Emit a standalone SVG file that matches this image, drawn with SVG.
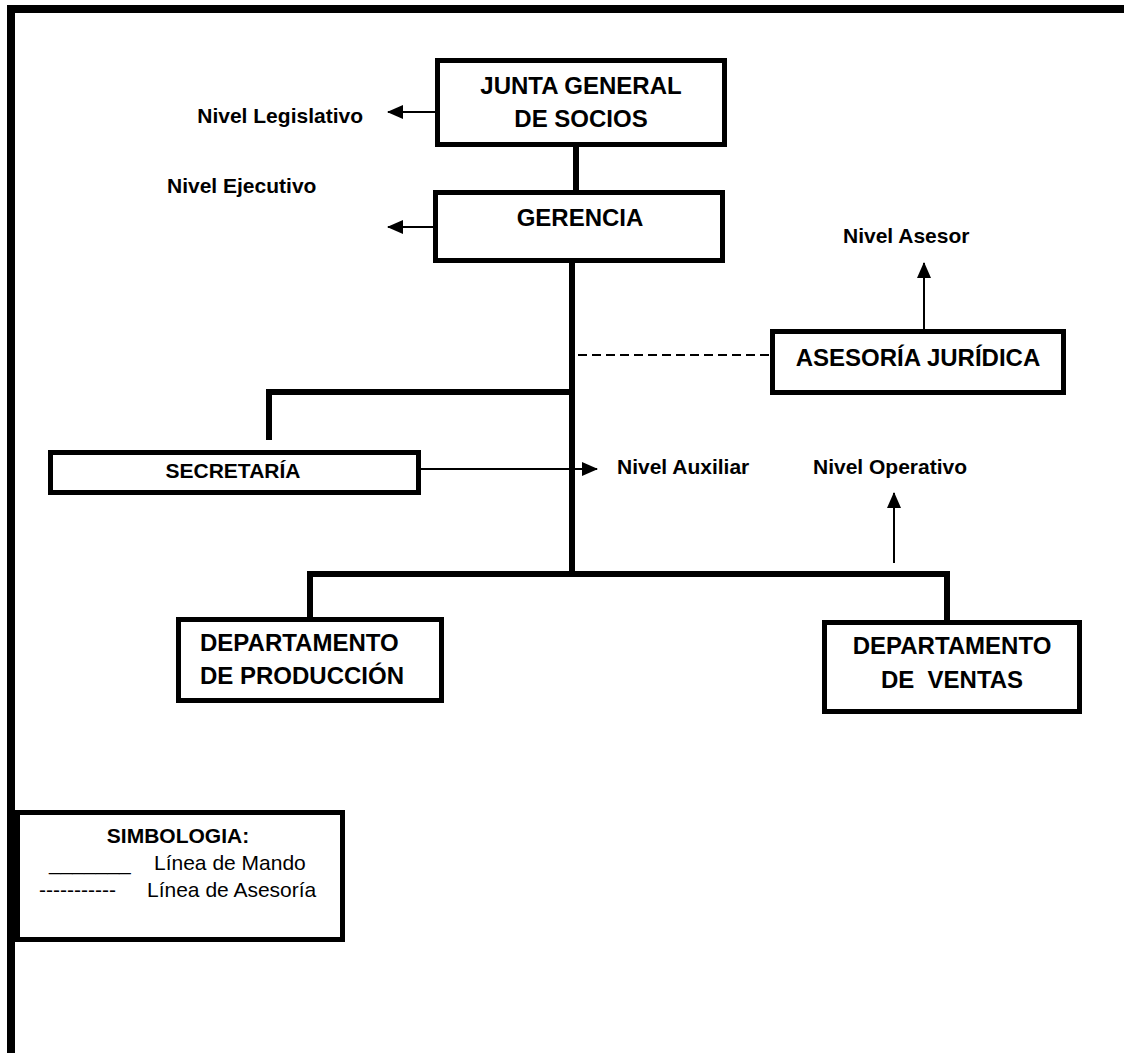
<svg xmlns="http://www.w3.org/2000/svg" width="1124" height="1053" viewBox="0 0 1124 1053">
<style>
.box{fill:#fff;stroke:#000;stroke-width:5}
.t{font-family:"Liberation Sans",Arial,sans-serif;font-weight:bold;font-size:24px;fill:#000}
.lbl{font-family:"Liberation Sans",Arial,sans-serif;font-weight:bold;font-size:21px;fill:#000}
.leg{font-family:"Liberation Sans",Arial,sans-serif;font-size:21px;fill:#000}
.cmd{stroke:#000;stroke-width:6;fill:none}
.thin{stroke:#000;stroke-width:2;fill:none}
</style>
<defs>
<marker id="ah" viewBox="0 0 16 14" refX="15" refY="7" markerWidth="16" markerHeight="14" markerUnits="userSpaceOnUse" orient="auto">
<path d="M0,0 L16,7 L0,14 Z" fill="#000"/>
</marker>
</defs>
<rect width="1124" height="1053" fill="#fff"/>
<g id="frame">
<rect x="7" y="5" width="1117" height="8" fill="#000"/>
<rect x="7" y="5" width="8" height="1048" fill="#000"/>
</g>
<g id="connectors">
<line class="cmd" x1="576" y1="147" x2="576" y2="190"/>
<line class="cmd" x1="572" y1="263" x2="572" y2="577"/>
<polyline class="cmd" points="572,392 269,392 269,440"/>
<polyline class="cmd" points="572,574 310,574 310,617"/>
<polyline class="cmd" points="572,574 947,574 947,620"/>
<line stroke="#000" stroke-width="2" stroke-dasharray="9,5" x1="578" y1="355" x2="770" y2="355"/>
<line class="thin" x1="435" y1="112" x2="388" y2="112" marker-end="url(#ah)"/>
<line class="thin" x1="433" y1="227" x2="388" y2="227" marker-end="url(#ah)"/>
<line class="thin" x1="421" y1="469" x2="597" y2="469" marker-end="url(#ah)"/>
<line class="thin" x1="924" y1="329" x2="924" y2="263" marker-end="url(#ah)"/>
<line class="thin" x1="894" y1="563" x2="894" y2="493" marker-end="url(#ah)"/>
</g>
<g id="junta">
<rect class="box" x="437.5" y="60.5" width="287" height="84"/>
<text class="t" x="581" y="94" text-anchor="middle">JUNTA GENERAL</text>
<text class="t" x="581" y="127" text-anchor="middle">DE SOCIOS</text>
</g>
<g id="gerencia">
<rect class="box" x="435.5" y="192.5" width="287" height="68"/>
<text class="t" x="580" y="226" text-anchor="middle">GERENCIA</text>
</g>
<g id="asesoria">
<rect class="box" x="772.5" y="331.5" width="291" height="61"/>
<text class="t" x="918" y="366" text-anchor="middle">ASESORÍA JURÍDICA</text>
</g>
<g id="secretaria">
<rect class="box" x="50.5" y="452.5" width="368" height="40"/>
<text class="lbl" x="233" y="478" text-anchor="middle">SECRETARÍA</text>
</g>
<g id="produccion">
<rect class="box" x="178.5" y="619.5" width="263" height="81"/>
<text class="t" x="200" y="651">DEPARTAMENTO</text>
<text class="t" x="200" y="684">DE PRODUCCIÓN</text>
</g>
<g id="ventas">
<rect class="box" x="824.5" y="622.5" width="255" height="89"/>
<text class="t" x="952" y="654" text-anchor="middle">DEPARTAMENTO</text>
<text class="t" x="952" y="688" text-anchor="middle" xml:space="preserve">DE  VENTAS</text>
</g>
<g id="labels">
<text class="lbl" x="363" y="123" text-anchor="end">Nivel Legislativo</text>
<text class="lbl" x="167" y="193">Nivel Ejecutivo</text>
<text class="lbl" x="843" y="243">Nivel Asesor</text>
<text class="lbl" x="617" y="474">Nivel Auxiliar</text>
<text class="lbl" x="813" y="474">Nivel Operativo</text>
</g>
<g id="simbologia">
<rect class="box" x="17.5" y="812.5" width="325" height="127"/>
<text class="lbl" x="178" y="843" text-anchor="middle">SIMBOLOGIA:</text>
<text class="leg" x="49" y="870">_______</text>
<text class="leg" x="154" y="870">Línea de Mando</text>
<text class="leg" x="39" y="897">-----------</text>
<text class="leg" x="147" y="897">Línea de Asesoría</text>
</g>
</svg>
